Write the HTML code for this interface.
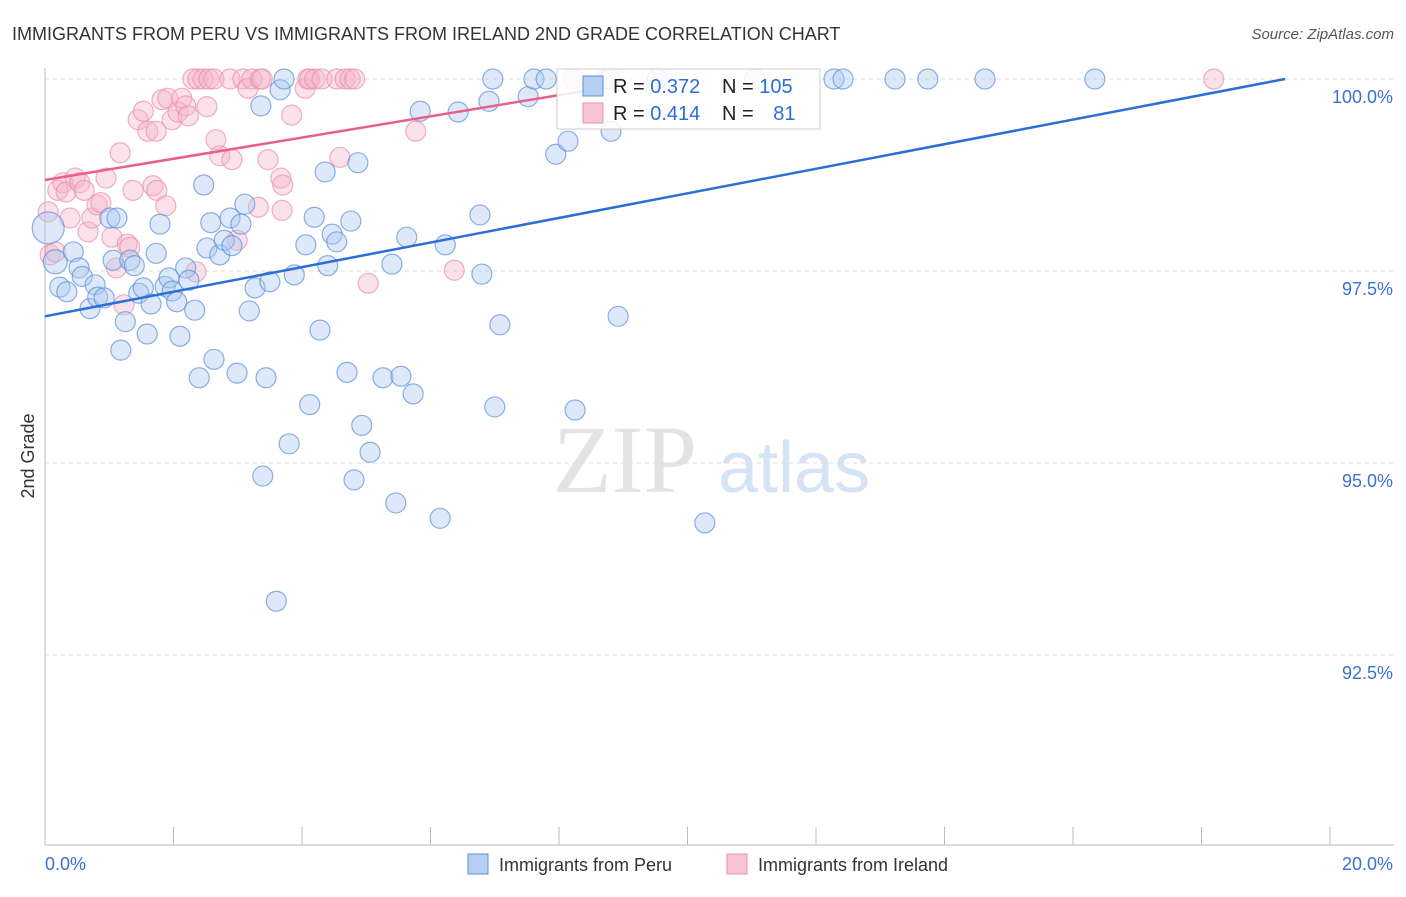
<!DOCTYPE html>
<html><head><meta charset="utf-8"><style>
body{margin:0;background:#fff;font-family:"Liberation Sans",sans-serif}
</style></head><body>
<svg width="1406" height="892" xmlns="http://www.w3.org/2000/svg" id="chart">
<text x="12" y="40" font-size="18" fill="#333">IMMIGRANTS FROM PERU VS IMMIGRANTS FROM IRELAND 2ND GRADE CORRELATION CHART</text>
<text x="1394" y="39" font-size="15" fill="#555" font-style="italic" text-anchor="end">Source: ZipAtlas.com</text>
<text x="34" y="456" font-size="18" fill="#333" transform="rotate(-90 34 456)" text-anchor="middle">2nd Grade</text>
<g>
<text x="553" y="492" font-size="96" font-family="Liberation Serif,serif" fill="#e3e3e3">ZIP</text>
<text x="718" y="492" font-size="72" fill="#d5e3f5">atlas</text>
</g>
<g id="grid"></g><g id="axes"></g><g id="pts"></g><g id="trends"></g>
<g>
<rect x="557" y="69" width="263" height="60" fill="#fff" fill-opacity="0.85" stroke="#ccc"/>
<rect x="583" y="76" width="20" height="20" fill="#b5cff3" stroke="#5b8fd8"/>
<rect x="583" y="103" width="20" height="20" fill="#f9c4d3" stroke="#e890aa"/>
<text x="613" y="93" font-size="20" fill="#222">R = <tspan fill="#2b6fd6">0.372</tspan></text>
<text x="722" y="93" font-size="20" fill="#222">N = <tspan fill="#2b6fd6">105</tspan></text>
<text x="613" y="120" font-size="20" fill="#222">R = <tspan fill="#2b6fd6">0.414</tspan></text>
<text x="722" y="120" font-size="20" fill="#222">N = <tspan fill="#2b6fd6" dx="14">81</tspan></text>
</g>
<g>
<rect x="468" y="854" width="20" height="20" fill="#b5cff3" stroke="#5b8fd8"/>
<text x="499" y="871" font-size="18" fill="#333">Immigrants from Peru</text>
<rect x="727" y="854" width="20" height="20" fill="#f9c4d3" stroke="#e890aa"/>
<text x="758" y="871" font-size="18" fill="#333">Immigrants from Ireland</text>
</g>
</svg>
<script>
const yTicks=[100,97.5,95,92.5];
const yTickLabels=["100.0%","97.5%","95.0%","92.5%"];
const xTicks=[0,2,4,6,8,10,12,14,16,18,20];
const xTickLabels=["0.0%","20.0%"];
const peruX=[.05,.16,.23,.34,.44,.53,.58,.70,.78,.82,.92,1.01,1.06,1.12,1.18,1.25,1.32,1.39,1.46,1.53,1.59,1.65,1.73,1.79,1.87,1.93,1.98,2.05,2.10,2.19,2.24,2.33,2.40,2.47,2.52,2.58,2.63,2.72,2.79,2.88,2.91,2.99,3.05,3.11,3.18,3.27,3.36,3.39,3.44,3.50,3.60,3.66,3.72,3.80,3.88,4.06,4.12,4.19,4.28,4.36,4.40,4.47,4.54,4.70,4.76,4.81,4.87,4.93,5.06,5.26,5.40,5.46,5.54,5.63,5.73,5.84,6.15,6.23,6.43,6.77,6.80,6.91,6.97,7.00,7.08,7.52,7.61,7.80,7.95,8.14,8.25,8.81,8.92,9.53,10.27,11.05,12.28,12.42,13.23,13.74,14.63,16.34,8.79];
const peruY=[98.06,97.62,97.29,97.23,97.75,97.54,97.43,97.01,97.32,97.16,97.15,98.19,97.64,98.19,96.47,96.84,97.64,97.57,97.21,97.28,96.68,97.07,97.73,98.11,97.30,97.41,97.24,97.10,96.65,97.54,97.38,96.99,96.11,98.62,97.80,98.13,96.35,97.71,97.90,98.19,97.83,96.17,98.11,98.37,96.98,97.28,99.65,94.83,96.11,97.36,93.20,99.86,100,95.25,97.45,97.84,95.76,98.20,96.73,98.79,97.57,97.98,97.88,96.18,98.15,94.78,98.91,95.49,95.14,96.11,97.59,94.48,96.13,97.94,95.90,99.58,94.28,97.84,99.57,98.23,97.46,99.71,100,95.73,96.80,99.77,100,100,99.02,99.19,95.69,99.32,96.91,100,94.22,100,100,100,100,100,100,100,100];
const irelandX=[.05,.08,.16,.20,.28,.33,.39,.47,.54,.61,.67,.73,.81,.87,.95,1.04,1.11,1.17,1.23,1.28,1.32,1.37,1.45,1.53,1.60,1.68,1.74,1.73,1.82,1.88,1.91,1.98,2.07,2.13,2.19,2.23,2.30,2.35,2.38,2.46,2.52,2.55,2.63,2.66,2.72,2.88,2.91,2.99,3.08,3.16,3.22,3.32,3.35,3.38,3.47,3.67,3.70,3.69,3.84,4.05,4.09,4.12,4.20,4.31,4.54,4.59,4.67,4.75,4.82,5.03,5.77,6.37,8.22,8.72,18.19];
const irelandY=[98.27,97.71,97.75,98.55,98.65,98.53,98.19,98.71,98.65,98.55,98.01,98.19,98.36,98.39,98.71,97.94,97.54,99.04,97.06,97.85,97.81,98.55,99.47,99.58,99.32,98.61,98.55,99.32,99.73,98.35,99.75,99.47,99.57,99.75,99.65,99.52,100,97.49,100,100,99.64,100,100,99.21,99.00,100,98.95,97.90,100,99.88,100,98.33,100,100,98.95,98.71,98.62,98.29,99.53,99.88,100,100,100,100,100,98.98,100,100,100,97.34,99.32,97.51,100,100,100];
const peruTrend=[0,96.91,19.3,100];
const irelandTrend=[0,98.685,8.65,99.88];
const X0=45,X1=1330,YTOP=79,PXPERPCT=76.8;
const sx=v=>X0+(X1-X0)*v/20;
const sy=v=>YTOP+(100-v)*PXPERPCT;
const NS="http://www.w3.org/2000/svg";
function mk(tag,attrs,parent){const e=document.createElementNS(NS,tag);for(const k in attrs)e.setAttribute(k,attrs[k]);parent.appendChild(e);return e;}
const grid=document.getElementById('grid'),axes=document.getElementById('axes'),pts=document.getElementById('pts'),tr=document.getElementById('trends');
yTicks.forEach((t,i)=>{
 const l=mk('line',{x1:X0,x2:1394,y1:sy(t),y2:sy(t),stroke:'#ddd','stroke-dasharray':'4,4'},grid);
 
 
 const tx=mk('text',{x:1393,y:sy(t)+24,'font-size':18,fill:'#3a72d0','text-anchor':'end'},axes);
 tx.textContent=yTickLabels[i];
 
 
});
const ax=mk('line',{x1:X0,x2:X0,y1:68,y2:845,stroke:'#bbb'},axes);


const bx=mk('line',{x1:X0,x2:1394,y1:845,y2:845,stroke:'#bbb'},axes);


xTicks.forEach(t=>{const l=mk('line',{x1:sx(t),x2:sx(t),y1:827,y2:845,stroke:'#bbb'},axes);
 
 });
const xl0=mk('text',{x:45,y:870,'font-size':18,fill:'#3a72d0'},axes);xl0.textContent=xTickLabels[0];


const xl1=mk('text',{x:1393,y:870,'font-size':18,fill:'#3a72d0','text-anchor':'end'},axes);xl1.textContent=xTickLabels[1];


function series(xs,ys,fill,stroke,name){xs.forEach((x,i)=>{
 const r=(name==='peru-point'&&i===0)?16:(name==='peru-point'&&i===1)?12:10;
 const c=mk('circle',{cx:sx(x),cy:sy(ys[i]),r:r,fill:fill,'fill-opacity':0.4,stroke:stroke,'stroke-opacity':0.7,'stroke-width':1.2},pts);
 
 });}
series(irelandX,irelandY,'#f6b3c7','#e890aa','ireland-point');
series(peruX,peruY,'#a9c7f0','#5b8fd8','peru-point');
const t1=mk('line',{x1:sx(peruTrend[0]),y1:sy(peruTrend[1]),x2:sx(peruTrend[2]),y2:sy(peruTrend[3]),stroke:'#2b6fd6','stroke-width':2.5},tr);


const t2=mk('line',{x1:sx(irelandTrend[0]),y1:sy(irelandTrend[1]),x2:sx(irelandTrend[2]),y2:sy(irelandTrend[3]),stroke:'#e8608a','stroke-width':2.5},tr);


</script>
</body></html>
